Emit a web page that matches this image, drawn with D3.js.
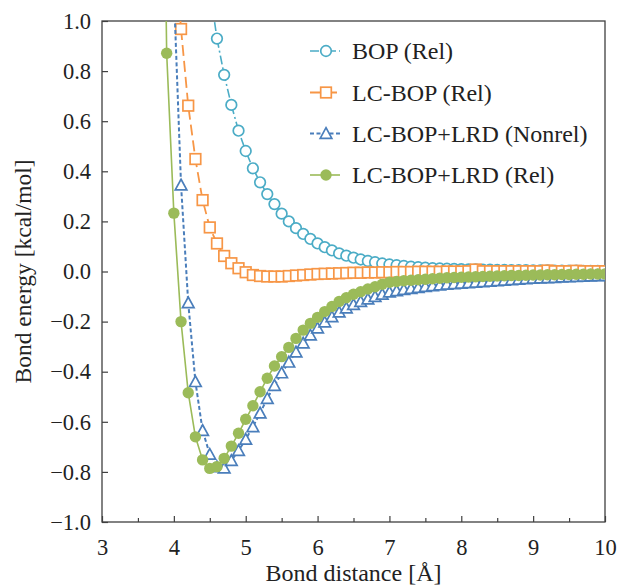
<!DOCTYPE html>
<html>
<head>
<meta charset="utf-8">
<script src="https://cdn.jsdelivr.net/npm/d3@7"></script>
<style>
  html, body { margin: 0; padding: 0; background: #fff; }
  svg { display: block; }
  text { font-family: "Liberation Serif", "Tinos", "Times New Roman", "DejaVu Serif", serif; fill: #222; }
</style>
</head>
<body>
<svg id="chart" width="617" height="586"></svg>
<script>
// ---------------- data ----------------
const seriesNames = ["BOP (Rel)", "LC-BOP (Rel)", "LC-BOP+LRD (Nonrel)", "LC-BOP+LRD (Rel)"];

const xTicks = [3, 4, 5, 6, 7, 8, 9, 10];
const xMinorTicks = [3.5, 4.5, 5.5, 6.5, 7.5, 8.5, 9.5];
const yTicks = [-1.0, -0.8, -0.6, -0.4, -0.2, 0.0, 0.2, 0.4, 0.6, 0.8, 1.0];

const bopX = [4.5,4.6,4.7,4.8,4.9,5.0,5.1,5.2,5.3,5.4,5.5,5.6,5.7,5.8,5.9,6.0,6.1,6.2,6.3,6.4,6.5,6.6,6.7,6.8,6.9,7.0,7.1,7.2,7.3,7.4,7.5,7.6,7.7,7.8,7.9,8.0,8.1,8.2,8.3,8.4,8.5,8.6,8.7,8.8,8.9,9.0,9.1,9.2,9.3,9.4,9.5,9.6,9.7,9.8,9.9,10.0];
const bopY = [1.13,0.930,0.785,0.665,0.562,0.481,0.412,0.356,0.309,0.269,0.231,0.200,0.173,0.150,0.130,0.112,0.097,0.084,0.072,0.063,0.055,0.048,0.042,0.037,0.032,0.028,0.025,0.022,0.019,0.017,0.015,0.013,0.012,0.011,0.010,0.009,0.008,0.008,0.007,0.007,0.006,0.006,0.005,0.005,0.005,0.004,0.004,0.004,0.003,0.003,0.003,0.003,0.002,0.002,0.002,0.002];

const lcX = [4.0,4.1,4.2,4.3,4.4,4.5,4.6,4.7,4.8,4.9,5.0,5.1,5.2,5.3,5.4,5.5,5.6,5.7,5.8,5.9,6.0,6.1,6.2,6.3,6.4,6.5,6.6,6.7,6.8,6.9,7.0,7.1,7.2,7.3,7.4,7.5,7.6,7.7,7.8,7.9,8.0,8.1,8.2,8.3,8.4,8.5,8.6,8.7,8.8,8.9,9.0,9.1,9.2,9.3,9.4,9.5,9.6,9.7,9.8,9.9,10.0];
const lcY = [1.35,0.968,0.662,0.449,0.285,0.176,0.112,0.062,0.033,0.013,-0.003,-0.014,-0.018,-0.020,-0.020,-0.020,-0.018,-0.016,-0.014,-0.012,-0.010,-0.009,-0.008,-0.007,-0.006,-0.005,-0.005,-0.004,-0.004,-0.003,-0.003,-0.002,-0.002,-0.002,-0.001,-0.001,-0.001,-0.001,0.000,0.000,0.000,0.001,0.008,0.001,0.001,0.001,0.001,0.001,0.001,0.001,0.001,0.001,0.004,0.001,0.001,0.001,0.003,0.001,0.001,0.001,0.001];

const nrX = [4.0,4.1,4.2,4.3,4.4,4.5,4.6,4.7,4.8,4.9,5.0,5.1,5.2,5.3,5.4,5.5,5.6,5.7,5.8,5.9,6.0,6.1,6.2,6.3,6.4,6.5,6.6,6.7,6.8,6.9,7.0,7.1,7.2,7.3,7.4,7.5,7.6,7.7,7.8,7.9,8.0,8.1,8.2,8.3,8.4,8.5,8.6,8.7,8.8,8.9,9.0,9.1,9.2,9.3,9.4,9.5,9.6,9.7,9.8,9.9,10.0];
const nrY = [1.12,0.345,-0.125,-0.440,-0.635,-0.730,-0.780,-0.785,-0.755,-0.715,-0.670,-0.620,-0.565,-0.507,-0.455,-0.405,-0.362,-0.322,-0.286,-0.254,-0.226,-0.202,-0.181,-0.162,-0.146,-0.132,-0.120,-0.110,-0.100,-0.091,-0.082,-0.077,-0.072,-0.068,-0.064,-0.060,-0.057,-0.054,-0.051,-0.049,-0.047,-0.045,-0.043,-0.041,-0.039,-0.037,-0.035,-0.033,-0.031,-0.029,-0.027,-0.026,-0.025,-0.024,-0.022,-0.021,-0.020,-0.019,-0.018,-0.017,-0.016];

const relX = [3.8,3.9,4.0,4.1,4.2,4.3,4.4,4.5,4.6,4.7,4.8,4.9,5.0,5.1,5.2,5.3,5.4,5.5,5.6,5.7,5.8,5.9,6.0,6.1,6.2,6.3,6.4,6.5,6.6,6.7,6.8,6.9,7.0,7.1,7.2,7.3,7.4,7.5,7.6,7.7,7.8,7.9,8.0,8.1,8.2,8.3,8.4,8.5,8.6,8.7,8.8,8.9,9.0,9.1,9.2,9.3,9.4,9.5,9.6,9.7,9.8,9.9,10.0];
const relY = [3.0,0.871,0.233,-0.200,-0.484,-0.660,-0.752,-0.786,-0.779,-0.746,-0.697,-0.646,-0.590,-0.536,-0.480,-0.426,-0.377,-0.340,-0.303,-0.267,-0.234,-0.207,-0.183,-0.160,-0.140,-0.120,-0.105,-0.091,-0.081,-0.070,-0.061,-0.051,-0.043,-0.040,-0.037,-0.035,-0.033,-0.031,-0.029,-0.027,-0.025,-0.024,-0.023,-0.022,-0.021,-0.020,-0.019,-0.018,-0.017,-0.016,-0.016,-0.015,-0.014,-0.014,-0.013,-0.013,-0.012,-0.012,-0.011,-0.011,-0.010,-0.010,-0.010];

// ---------------- layout ----------------
const FONT = '"Liberation Serif", "Tinos", "Times New Roman", "DejaVu Serif", serif';
const svg = d3.select("#chart");
const L = 102, R = 605, T = 21, B = 522;
const x = d3.scaleLinear().domain([3, 10]).range([L, R]);
const y = d3.scaleLinear().domain([-1, 1]).range([B, T]);
const fmt = v => d3.format(".1f")(v).replace("-", "\u2212");
const axisColor = "#404040";

svg.append("clipPath").attr("id", "clip")
  .append("rect").attr("x", L).attr("y", T).attr("width", R - L).attr("height", B - T);

const styles = [
  { color: "#4bacc6", dash: "9,3,2,3", width: 1.6, marker: "circle" },
  { color: "#f79646", dash: "11,5", width: 1.8, marker: "square" },
  { color: "#4a7ebb", dash: "4,2.5", width: 2.0, marker: "triangle" },
  { color: "#9bbb59", dash: null, width: 1.6, marker: "dot" }
];
const data = [
  d3.zip(bopX, bopY), d3.zip(lcX, lcY), d3.zip(nrX, nrY), d3.zip(relX, relY)
];

function drawMarker(g, type, color, cx, cy) {
  if (type === "circle") {
    g.append("circle").attr("cx", cx).attr("cy", cy).attr("r", 5.3)
      .attr("fill", "#fff").attr("stroke", color).attr("stroke-width", 1.7);
  } else if (type === "square") {
    g.append("rect").attr("x", cx - 5.3).attr("y", cy - 5.3).attr("width", 10.6).attr("height", 10.6)
      .attr("fill", "#fff").attr("stroke", color).attr("stroke-width", 1.7);
  } else if (type === "triangle") {
    g.append("path").attr("d", `M${cx},${cy - 5.8}L${cx + 5.8},${cy + 4.8}L${cx - 5.8},${cy + 4.8}Z`)
      .attr("fill", "#fff").attr("stroke", color).attr("stroke-width", 1.7).attr("stroke-linejoin", "miter");
  } else {
    g.append("circle").attr("cx", cx).attr("cy", cy).attr("r", 5.7).attr("fill", color);
  }
}

// ---------------- axes ----------------
const xAxis = svg.append("g").attr("transform", `translate(0,${B})`)
  .call(d3.axisBottom(x).tickValues(xTicks).tickFormat(d3.format("d")).tickSize(-6).tickPadding(17));
const xMinor = svg.append("g").attr("transform", `translate(0,${B})`)
  .call(d3.axisBottom(x).tickValues(xMinorTicks).tickFormat("").tickSize(-4));
const yAxis = svg.append("g").attr("transform", `translate(${L},0)`)
  .call(d3.axisLeft(y).tickValues(yTicks).tickFormat(fmt).tickSize(-6).tickPadding(11));

[xAxis, xMinor, yAxis].forEach(g => {
  g.attr("font-family", FONT);
  g.select(".domain").remove();
  g.selectAll(".tick line").attr("stroke", axisColor).attr("stroke-width", 1.2);
  g.selectAll(".tick text").attr("font-size", 22.5).attr("fill", "#222")
    .style("font-family", FONT);
});

// plot frame
svg.append("rect").attr("x", L).attr("y", T).attr("width", R - L).attr("height", B - T)
  .attr("fill", "none").attr("stroke", axisColor).attr("stroke-width", 1.3);

// axis titles
svg.append("text").attr("x", (L + R) / 2).attr("y", 581).attr("text-anchor", "middle")
  .style("font-family", FONT).attr("font-size", 24).text("Bond distance [\u00C5]");
svg.append("text").attr("transform", `translate(31,${(T + B) / 2}) rotate(-90)`)
  .style("font-family", FONT).attr("text-anchor", "middle").attr("font-size", 23.5).text("Bond energy [kcal/mol]");

// ---------------- series ----------------
const plot = svg.append("g").attr("clip-path", "url(#clip)");
const line = d3.line().x(d => x(d[0])).y(d => y(d[1]));
data.forEach((pts, i) => {
  const s = styles[i];
  const g = plot.append("g");
  g.append("path").datum(pts).attr("d", line).attr("fill", "none")
    .attr("stroke", s.color).attr("stroke-width", s.width)
    .attr("stroke-dasharray", s.dash);
  pts.forEach(p => drawMarker(g, s.marker, s.color, x(p[0]), y(p[1])));
});

// ---------------- legend ----------------
const legendRows = [51, 92.5, 133.5, 175];
const leg = svg.append("g");
seriesNames.forEach((name, i) => {
  const s = styles[i];
  const yy = legendRows[i];
  leg.append("line").attr("x1", 310).attr("x2", 340).attr("y1", yy).attr("y2", yy)
    .attr("stroke", s.color).attr("stroke-width", s.width).attr("stroke-dasharray", s.dash);
  drawMarker(leg, s.marker, s.color, 326, yy);
  leg.append("text").attr("x", 352).attr("y", yy).attr("dy", "0.35em")
    .style("font-family", FONT).attr("font-size", 24).text(name);
});
</script>
</body>
</html>
